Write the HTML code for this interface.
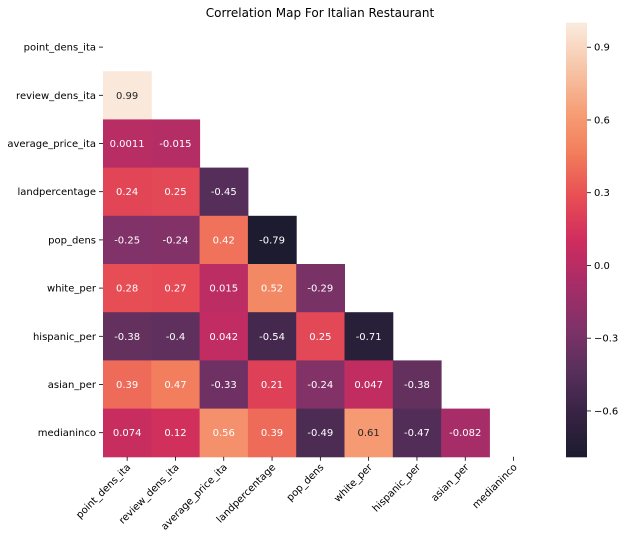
<!DOCTYPE html>
<html><head><meta charset="utf-8"><style>
body{margin:0;background:#fff;}
svg{font-family:"DejaVu Sans","Liberation Sans",sans-serif;}
</style></head><body>
<svg id="chart" width="625" height="542" viewBox="0 0 625 542" xmlns="http://www.w3.org/2000/svg">
<text x="320" y="17" font-size="12" text-anchor="middle" fill="#000">Correlation Map For Italian Restaurant</text>
<g id="cells"></g><g id="ylabels"></g><g id="xlabels"></g><g id="cbar"></g>
</svg>
<script>
const labels = ["point_dens_ita","review_dens_ita","average_price_ita","landpercentage","pop_dens","white_per","hispanic_per","asian_per","medianinco"];
const rowValues = [
  [],
  [0.99],
  [0.0011,-0.015],
  [0.24,0.25,-0.45],
  [-0.25,-0.24,0.42,-0.79],
  [0.28,0.27,0.015,0.52,-0.29],
  [-0.38,-0.4,0.042,-0.54,0.25,-0.71],
  [0.39,0.47,-0.33,0.21,-0.24,0.047,-0.38],
  [0.074,0.12,0.56,0.39,-0.49,0.61,-0.47,-0.082]
];
const cbarTicks = [0.9,0.6,0.3,0.0,-0.3,-0.6];
const vmin = -0.79, vmax = 1.0;

const X0=103, Y0=23, CW=48.3, CH=48.2;
const stops=[[28,27,47],[55,35,68],[88,48,92],[128,50,104],[168,45,104],[207,45,94],[232,78,84],[242,125,92],[246,160,120],[247,198,170],[250,235,221]];
function color(v){let t=(v-vmin)/(vmax-vmin);t=Math.max(0,Math.min(1,t))*10;const i=Math.min(9,Math.floor(t)),f=t-i;const a=stops[i],b=stops[i+1];return [0,1,2].map(k=>Math.round(a[k]+(b[k]-a[k])*f));}
function lum(c){const l=c.map(x=>{x/=255;return x<=0.03928?x/12.92:Math.pow((x+0.055)/1.055,2.4)});return 0.2126*l[0]+0.7152*l[1]+0.0722*l[2];}
const NS="http://www.w3.org/2000/svg";
function mk(tag,attrs,parent){const e=document.createElementNS(NS,tag);for(const k in attrs)e.setAttribute(k,attrs[k]);parent.appendChild(e);return e;}
const xs=i=>X0+i*CW, ys=j=>Y0+j*CH;
const cells=document.getElementById('cells');
rowValues.forEach((row,j)=>{row.forEach((v,i)=>{
  const c=color(v);
  const r=mk('rect',{x:xs(i),y:ys(j),width:CW+0.5,height:CH+0.5,fill:`rgb(${c})`},cells);
  
  
  const t=mk('text',{x:xs(i)+CW/2,y:ys(j)+CH/2+3.5,'font-size':10,'text-anchor':'middle',fill:lum(c)>0.408?'#262626':'#fff'},cells);
  t.textContent=String(v);
  
  
});});
const yl=document.getElementById('ylabels'), xl=document.getElementById('xlabels');
labels.forEach((l,j)=>{
  const y=ys(j)+CH/2;
  mk('line',{x1:99,x2:103,y1:y,y2:y,stroke:'#000','stroke-width':0.8},yl);
  const t=mk('text',{x:96,y:y+3.5,'font-size':10,'text-anchor':'end',fill:'#000'},yl);
  t.textContent=l;
  
  
  const x=xs(j)+CW/2, yb=Y0+9*CH;
  mk('line',{x1:x,x2:x,y1:yb,y2:yb+4,stroke:'#000','stroke-width':0.8},xl);
  const ax=x+4, ay=yb+11;
  const u=mk('text',{x:ax,y:ay,'font-size':10,'text-anchor':'end',fill:'#000',transform:`rotate(-45 ${ax} ${ay})`},xl);
  u.textContent=l;
  
  
});
const cb=document.getElementById('cbar');
const CBX=566, CBW=21, CBT=23, CBB=457;
const cy=v=>CBB-(v-vmin)/(vmax-vmin)*(CBB-CBT);
for(let k=0;k<200;k++){const v=vmin+(vmax-vmin)*k/200;const c=color(v+(vmax-vmin)/400);
  mk('rect',{x:CBX,y:cy(v+(vmax-vmin)/200)-0.3,width:CBW,height:(CBB-CBT)/200+0.6,fill:`rgb(${c})`},cb);}
const cbr=mk('rect',{x:CBX,y:CBT,width:CBW,height:CBB-CBT,fill:'none'},cb);


cbarTicks.forEach(v=>{const y=cy(v);
  mk('line',{x1:CBX+CBW,x2:CBX+CBW+4,y1:y,y2:y,stroke:'#000','stroke-width':0.8},cb);
  const t=mk('text',{x:CBX+CBW+7,y:y+3.5,'font-size':10,fill:'#000'},cb);
  t.textContent=(v<0?'\u2212':'')+Math.abs(v).toFixed(1);
  
  
});
</script>
</body></html>
